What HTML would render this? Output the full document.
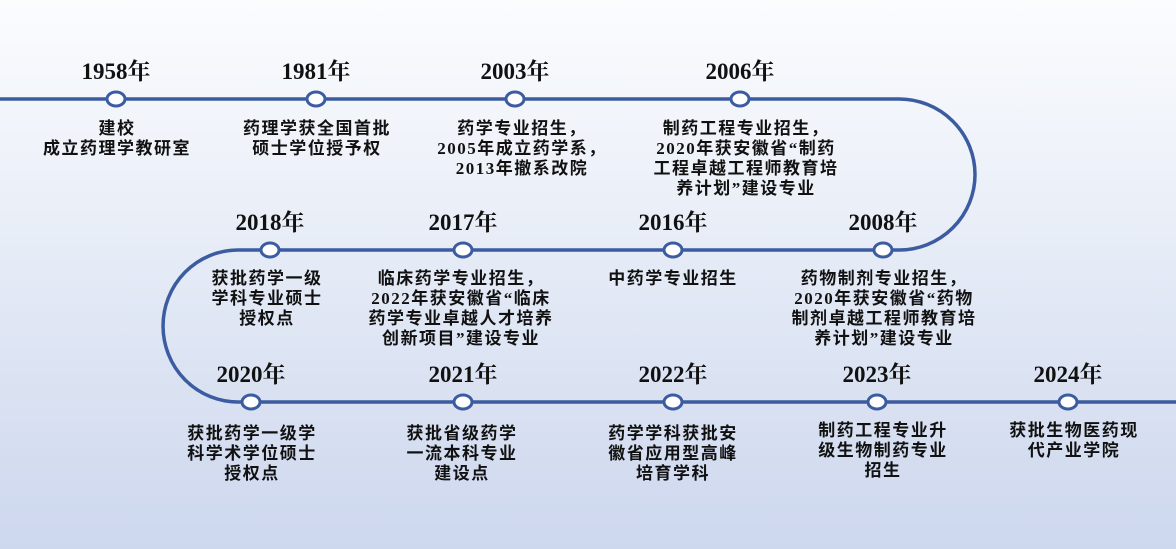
<!DOCTYPE html>
<html><head><meta charset="utf-8"><style>
html,body{margin:0;padding:0}
body{width:1176px;height:549px;position:relative;overflow:hidden;
background:linear-gradient(to bottom,#fbfcfe 0%,#eef2f9 30%,#dfe6f4 60%,#cdd7ee 100%);
font-family:"Liberation Serif","Noto Serif CJK SC","Noto Sans CJK SC",serif;}
.y{position:absolute;font-weight:bold;font-size:23px;color:#111;transform:translateX(-50%);white-space:nowrap;line-height:24px}
.d{position:absolute;font-weight:bold;font-size:17px;letter-spacing:1.5px;color:#111;transform:translateX(-50%);text-align:center;white-space:nowrap;line-height:20px;font-family:"Liberation Serif","Noto Sans CJK SC",sans-serif}
svg{position:absolute;left:0;top:0}
</style></head><body>
<svg width="1176" height="549">
<path d="M0 99 H899 A76 75.5 0 0 1 899 250 H238 A75 76 0 0 0 238 402 H1176" fill="none" stroke="#3b5ca0" stroke-width="3.5"/>
<g fill="#fff" stroke="#3b5ca0" stroke-width="3">
<ellipse cx="116" cy="99" rx="9" ry="7"/><ellipse cx="316" cy="99" rx="9" ry="7"/><ellipse cx="515" cy="99" rx="9" ry="7"/><ellipse cx="740" cy="99" rx="9" ry="7"/>
<ellipse cx="270" cy="250" rx="9" ry="7"/><ellipse cx="463" cy="250" rx="9" ry="7"/><ellipse cx="673" cy="250" rx="9" ry="7"/><ellipse cx="883" cy="250" rx="9" ry="7"/>
<ellipse cx="251" cy="402" rx="9" ry="7"/><ellipse cx="463" cy="402" rx="9" ry="7"/><ellipse cx="673" cy="402" rx="9" ry="7"/><ellipse cx="877" cy="402" rx="9" ry="7"/><ellipse cx="1068" cy="402" rx="9" ry="7"/>
</g></svg>
<div class="y" style="left:116px;top:60px">1958年</div>
<div class="y" style="left:316px;top:60px">1981年</div>
<div class="y" style="left:515px;top:60px">2003年</div>
<div class="y" style="left:740px;top:60px">2006年</div>
<div class="d" style="left:117px;top:119px">建校<br>成立药理学教研室</div>
<div class="d" style="left:317px;top:119px">药理学获全国首批<br>硕士学位授予权</div>
<div class="d" style="left:522px;top:119px">药学专业招生，<br>2005年成立药学系，<br>2013年撤系改院</div>
<div class="d" style="left:746px;top:119px">制药工程专业招生，<br>2020年获安徽省“制药<br>工程卓越工程师教育培<br>养计划”建设专业</div>
<div class="y" style="left:270px;top:211px">2018年</div>
<div class="y" style="left:463px;top:211px">2017年</div>
<div class="y" style="left:673px;top:211px">2016年</div>
<div class="y" style="left:883px;top:211px">2008年</div>
<div class="d" style="left:267px;top:269px">获批药学一级<br>学科专业硕士<br>授权点</div>
<div class="d" style="left:461px;top:269px">临床药学专业招生，<br>2022年获安徽省“临床<br>药学专业卓越人才培养<br>创新项目”建设专业</div>
<div class="d" style="left:673px;top:269px">中药学专业招生</div>
<div class="d" style="left:884px;top:269px">药物制剂专业招生，<br>2020年获安徽省“药物<br>制剂卓越工程师教育培<br>养计划”建设专业</div>
<div class="y" style="left:251px;top:363px">2020年</div>
<div class="y" style="left:463px;top:363px">2021年</div>
<div class="y" style="left:673px;top:363px">2022年</div>
<div class="y" style="left:877px;top:363px">2023年</div>
<div class="y" style="left:1068px;top:363px">2024年</div>
<div class="d" style="left:252px;top:424px">获批药学一级学<br>科学术学位硕士<br>授权点</div>
<div class="d" style="left:462px;top:424px">获批省级药学<br>一流本科专业<br>建设点</div>
<div class="d" style="left:673px;top:424px">药学学科获批安<br>徽省应用型高峰<br>培育学科</div>
<div class="d" style="left:883px;top:421px">制药工程专业升<br>级生物制药专业<br>招生</div>
<div class="d" style="left:1074px;top:421px">获批生物医药现<br>代产业学院</div>
</body></html>
